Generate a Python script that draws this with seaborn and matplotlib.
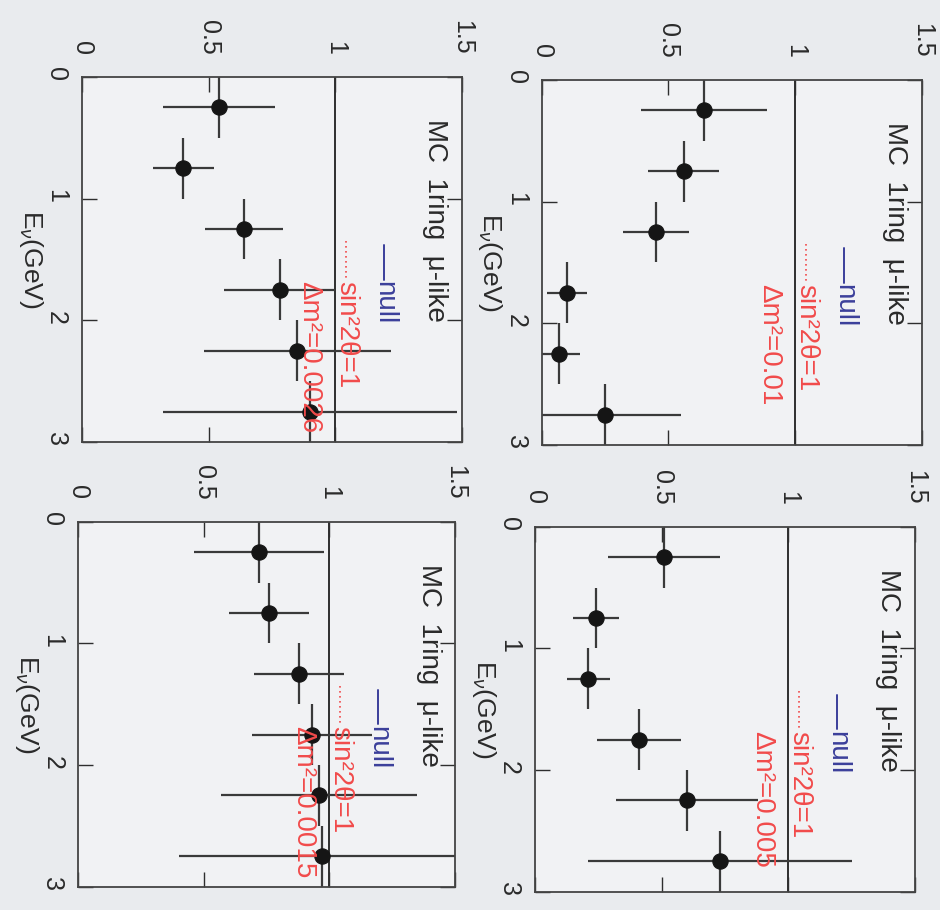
import matplotlib
matplotlib.use("Agg")
import matplotlib.pyplot as plt
import numpy as np
import pandas as pd
import seaborn as sns

# Energy binning (GeV) shared by all panels
e_edges = [0.0, 0.5, 1.0, 1.5, 2.0, 2.5, 3.0]

# Data/MC ratio per energy bin and its uncertainty, one series per Δm² value
dm2_labels = ["0.0026", "0.01", "0.0015", "0.005"]
ratio_0026 = [0.54, 0.40, 0.64, 0.78, 0.85, 0.90]
err_0026 = [0.22, 0.12, 0.155, 0.22, 0.37, 0.58]
ratio_001 = [0.64, 0.56, 0.45, 0.10, 0.07, 0.25]
err_001 = [0.25, 0.14, 0.13, 0.08, 0.08, 0.30]
ratio_00015 = [0.72, 0.76, 0.88, 0.93, 0.96, 0.97]
err_00015 = [0.26, 0.16, 0.18, 0.24, 0.39, 0.57]
ratio_0005 = [0.51, 0.24, 0.21, 0.41, 0.60, 0.73]
err_0005 = [0.22, 0.09, 0.085, 0.165, 0.28, 0.52]

ratio_ticks = [0, 0.5, 1, 1.5]
ratio_tick_labels = ["0", "0.5", "1", "1.5"]
energy_ticks = [0, 1, 2, 3]
energy_tick_labels = ["0", "1", "2", "3"]

title_text = "MC  1ring  \u03bc-like"
null_text = "null"
osc_text = "sin\u00b22\u03b8=1"

sns.set_theme(style="ticks")
plt.rcParams["font.family"] = ["Liberation Sans", "DejaVu Sans"]
plt.rcParams["mathtext.fontset"] = "custom"
plt.rcParams["mathtext.rm"] = "Liberation Sans"
plt.rcParams["mathtext.it"] = "Liberation Sans:italic"

ink = "#2e2e2e"
red = "#f24b4b"
blue = "#3b3f9a"

fig = plt.figure(figsize=(9.4, 9.1), dpi=100, facecolor="#e9ebee")

# panel boxes in figure fractions: left, bottom, width, height
boxes = [
    [0.0872, 0.5143, 0.4043, 0.4011],
    [0.5763, 0.5110, 0.4043, 0.4011],
    [0.0833, 0.0256, 0.4007, 0.4011],
    [0.5691, 0.0201, 0.4043, 0.4011],
]
series = [
    (ratio_0026, err_0026),
    (ratio_001, err_001),
    (ratio_00015, err_00015),
    (ratio_0005, err_0005),
]

edges = np.array(e_edges)
centers = 0.5 * (edges[:-1] + edges[1:])
half = 0.5 * np.diff(edges)

for box, (ratio, err), dm2 in zip(boxes, series, dm2_labels):
    ax = fig.add_axes(box)
    ax.set_facecolor("#f1f2f4")
    df = pd.DataFrame({"energy": centers, "ratio": ratio, "err": err, "half": half})

    # no-oscillation reference
    ax.axvline(1.0, color=ink, lw=1.4, zorder=1)

    ax.errorbar(df["ratio"], df["energy"], xerr=df["err"], yerr=df["half"],
                fmt="none", ecolor="#3a3a3a", elinewidth=1.6, capsize=0, zorder=2)
    sns.scatterplot(data=df, x="ratio", y="energy", ax=ax, color="#151515",
                    edgecolor="#151515", s=120, legend=False, zorder=3)

    ax.set_xlim(0, 1.5)
    ax.set_ylim(3, 0)
    ax.set_xlabel("")
    ax.set_ylabel("")

    ax.set_xticks(ratio_ticks, ratio_tick_labels)
    ax.set_yticks(energy_ticks, energy_tick_labels)
    ax.tick_params(axis="x", direction="in", length=11, width=1.0, color=ink,
                   top=True, bottom=True, labeltop=True, labelbottom=False,
                   labelrotation=-90, pad=16, labelsize=18, labelcolor="#2a2a2a")
    ax.tick_params(axis="y", direction="in", length=11, width=1.0, color=ink,
                   left=True, right=True, labelleft=True, labelright=False,
                   labelrotation=-90, pad=10, labelsize=18, labelcolor="#2a2a2a")
    for sp in ax.spines.values():
        sp.set_color("#444444")
        sp.set_linewidth(1.3)

    ax.text(-0.135, 0.5, r"E$_\nu$(GeV)", transform=ax.transAxes, rotation=-90,
            ha="center", va="center", fontsize=19, color="#2a2a2a")

    ax.text(0.93, 0.885, title_text, transform=ax.transAxes, rotation=-90,
            ha="center", va="top", fontsize=20, color="#2a2a2a")

    # key: null (solid blue) and oscillated (dotted red)
    ax.plot([0.795, 0.795], [0.54, 0.445], transform=ax.transAxes,
            color=blue, lw=1.4)
    ax.text(0.795, 0.44, null_text, transform=ax.transAxes, rotation=-90,
            ha="center", va="top", fontsize=20, color=blue)
    ax.plot([0.695, 0.695], [0.55, 0.445], transform=ax.transAxes,
            color=red, lw=1.2, ls=(0, (1, 2)))
    ax.text(0.695, 0.44, osc_text, transform=ax.transAxes, rotation=-90,
            ha="center", va="top", fontsize=20, color=red)
    ax.text(0.598, 0.44, "\u0394m\u00b2=" + dm2, transform=ax.transAxes,
            rotation=-90, ha="center", va="top", fontsize=20, color=red)

fig.savefig("out.png", dpi=100, facecolor=fig.get_facecolor())
